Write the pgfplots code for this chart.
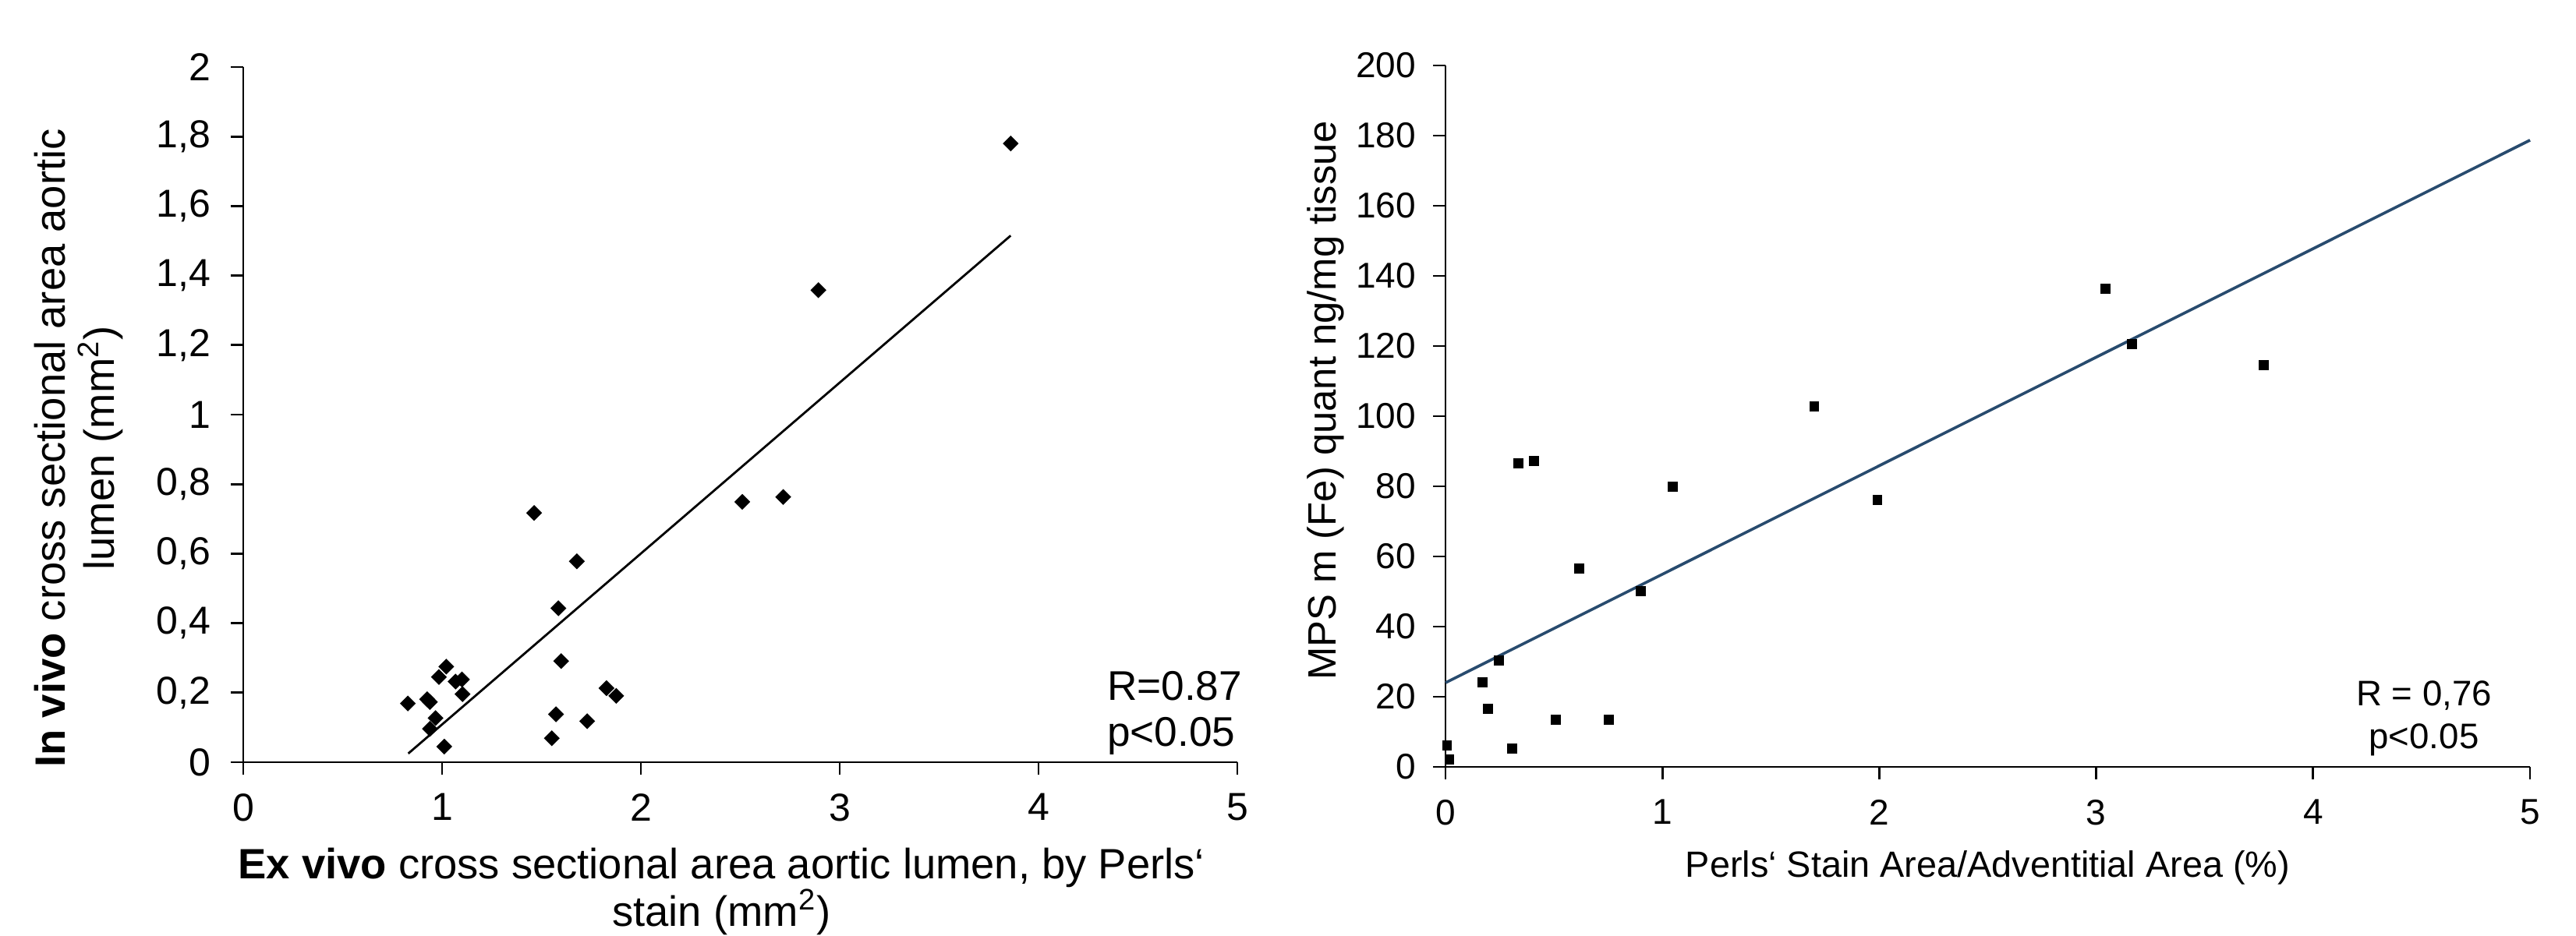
\documentclass[border=0pt]{standalone}
\usepackage{fontspec}
\setmainfont{Liberation Sans}
\usepackage{pgfplots}
\pgfplotsset{compat=1.18}
\definecolor{trend}{RGB}{40,75,110}

\pgfplotstableread{
x y
0.828 0.169
0.925 0.181
0.939 0.173
0.984 0.245
1.021 0.275
1.068 0.232
1.100 0.238
1.103 0.196
0.967 0.127
0.939 0.096
1.011 0.045
1.463 0.717
1.678 0.578
1.585 0.443
1.599 0.291
1.573 0.138
1.552 0.069
1.730 0.118
1.827 0.213
1.876 0.191
2.510 0.749
2.716 0.763
2.893 1.358
3.860 1.780
}\exvivo

\pgfplotstableread{
x y
0.007 6.1
0.018 2.2
0.170 24.2
0.195 16.6
0.247 30.3
0.306 5.2
0.336 86.5
0.409 87.2
0.509 13.4
0.616 56.6
0.752 13.5
0.900 50.1
1.047 79.9
1.700 102.8
1.991 76.2
3.042 136.3
3.164 120.6
3.772 114.5
}\mps

\begin{document}
\begin{tikzpicture}
\useasboundingbox (0,0) rectangle (826pt,300pt);

\pgfplotsset{
  panel/.style={
    scale only axis,
    anchor=south west,
    axis x line*=bottom,
    axis y line*=left,
    axis line style={line width=0.7pt},
    tick style={line width=0.7pt, black},
    tick align=outside,
    major tick length=4pt,
    xmin=0, xmax=5,
    xtick={0,1,2,3,4,5},
    /pgf/number format/assume math mode=true,
    clip=false,
  }
}

% left panel
\begin{axis}[panel,
  at={(78pt,55.5pt)},
  width=318.75pt, height=223pt,
  ymin=0, ymax=2,
  ytick={0,0.2,0.4,0.6,0.8,1,1.2,1.4,1.6,1.8,2},
  tick label style={font=\fontsize{12.5}{14}\selectfont},
  yticklabel style={xshift=-3pt},
  xticklabel style={yshift=-2.5pt},
  /pgf/number format/use comma,
  xlabel={\textbf{Ex vivo} cross sectional area aortic lumen, by Perls‘\\stain (mm\textsuperscript{2})},
  xlabel style={align=center, font=\fontsize{13.6}{15.2}\selectfont,
    at={(axis description cs:0.481,-0.186)}, anchor=center},
  ylabel={\textbf{In vivo} cross sectional area aortic\\lumen (mm\textsuperscript{2})},
  ylabel style={align=center, font=\fontsize{13.6}{15.8}\selectfont,
    at={(axis description cs:-0.1653,0.452)}, anchor=center},
]
\addplot[black, line width=0.7pt] coordinates {(0.83,0.025) (3.86,1.515)};
\addplot[only marks, mark=square*, mark size=1.6pt,
  mark options={rotate=45, fill=black, draw=black}] table[x=x, y=y] {\exvivo};
\node[anchor=west, align=left, font=\fontsize{13.3}{14.75}\selectfont]
  at (axis cs:4.29,0.142) {R=0.87\\p<0.05};
\end{axis}

% right panel
\begin{axis}[panel,
  at={(463.5pt,54pt)},
  width=347.75pt, height=225pt,
  ymin=0, ymax=200,
  ytick={0,20,40,60,80,100,120,140,160,180,200},
  tick label style={font=\fontsize{11.5}{13}\selectfont},
  yticklabel style={xshift=-2pt},
  xticklabel style={yshift=-3pt},
  xlabel={Perls‘ Stain Area/Adventitial Area (\%)},
  xlabel style={font=\fontsize{11.7}{14}\selectfont,
    at={(axis description cs:0.5,-0.1433)}, anchor=center},
  ylabel={MPS m (Fe) quant ng/mg tissue},
  ylabel style={font=\fontsize{12.7}{15}\selectfont,
    at={(axis description cs:-0.1107,0.522)}, anchor=center},
]
\addplot[trend, line width=0.9pt] coordinates {(0,24) (5,178.7)};
\addplot[only marks, mark=square*, mark size=1.4pt,
  mark options={fill=black, draw=black}] table[x=x, y=y] {\mps};
\node[align=center, font=\fontsize{11.4}{13.75}\selectfont]
  at (axis cs:4.511,13.9) {R = 0,76\\p<0.05};
\end{axis}
\end{tikzpicture}
\end{document}
